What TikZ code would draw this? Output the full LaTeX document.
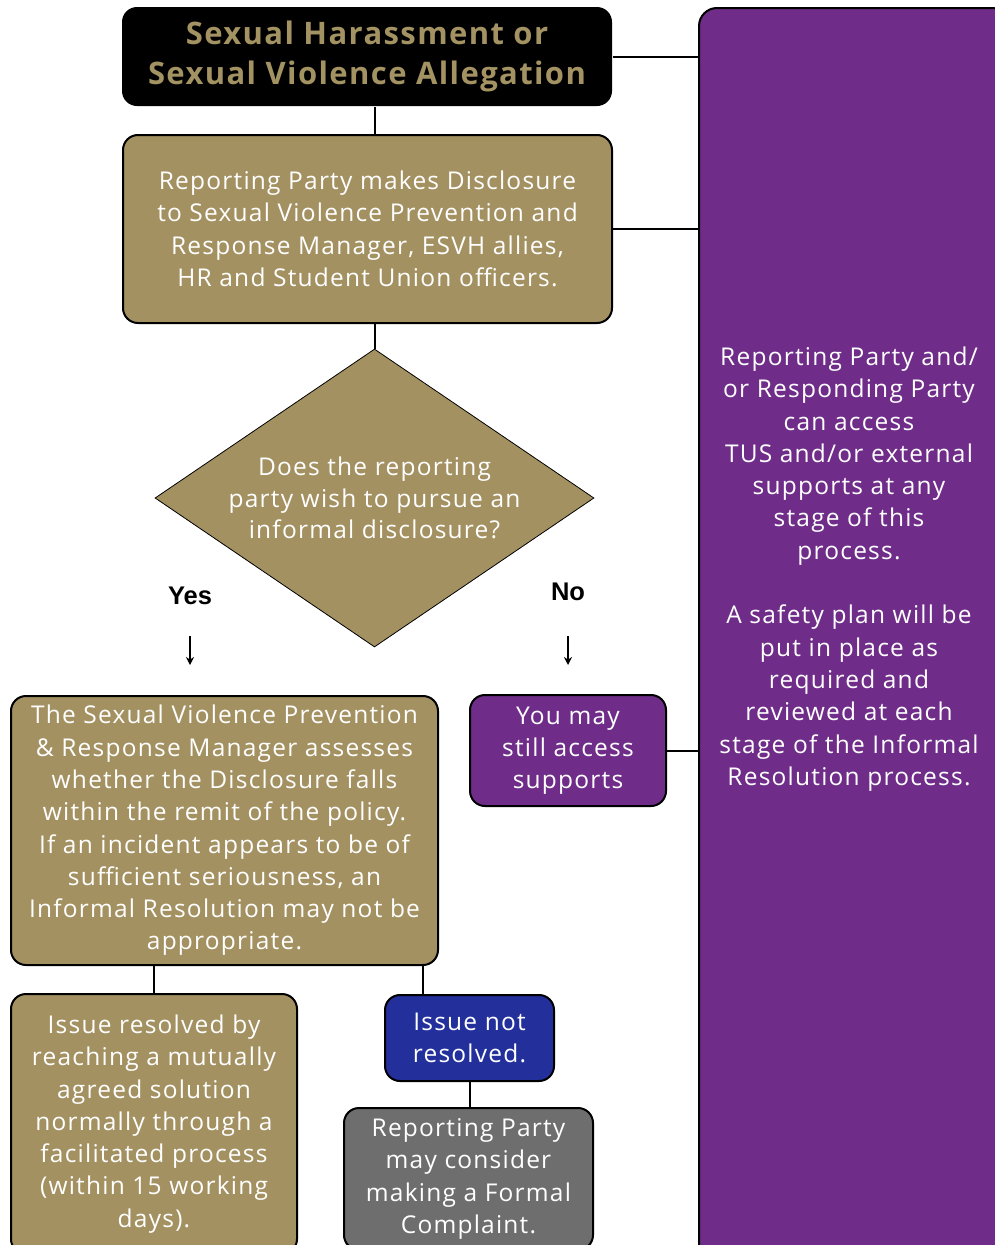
\documentclass[tikz,border=0pt]{standalone}
\usepackage{fontspec}
\setmainfont{Open Sans}[LetterSpace=5]
\newfontfamily\titlefont{Open Sans}[LetterSpace=4.5]
\newfontfamily\labfont{Liberation Sans}
\usetikzlibrary{shapes.geometric,arrows.meta}
\definecolor{gold}{HTML}{A39161}
\definecolor{titlegold}{HTML}{A39262}
\definecolor{vpurple}{HTML}{6F2D89}
\definecolor{vblue}{HTML}{23309B}
\definecolor{vgray}{HTML}{6E6E6E}
\tikzset{
  box/.style={draw=black, line width=2pt, rounded corners=15pt, align=center,
    text=white, inner sep=0pt, font=\fontsize{24.5}{32.3}\selectfont},
  plaintext/.style={align=center, text=white, inner sep=0pt, font=\fontsize{24.5}{32.3}\selectfont},
  conn/.style={draw=black, line width=2pt},
  lab/.style={font=\labfont\bfseries\fontsize{25.5}{30}\selectfont, inner sep=0pt},
  smallarrow/.style={draw=black, line width=1.8pt, -{Stealth[length=8pt,width=8pt]}}
}
\begin{document}
\begin{tikzpicture}[x=1pt,y=-1pt]
\useasboundingbox (0,0) rectangle (995,1245);
\clip (0,0) rectangle (995,1245);

% big purple side panel
\node[box, fill=vpurple, rounded corners=18pt, minimum width=311pt, minimum height=1257pt] (purple) at (854.5,636.5) {};
\node[plaintext] (ptext) at (849,569)
  {Reporting Party and/\\or Responding Party\\can access\\TUS and/or external\\supports at any\\stage of this\\process.\\[32.3pt]A safety plan will be\\put in place as\\required and\\reviewed at each\\stage of the Informal\\Resolution process.};

% title
\node[box, draw=none, fill=black, text=titlegold, font=\titlefont\bfseries\fontsize{31}{40}\selectfont,
  minimum width=490pt, minimum height=99pt] (title) at (367,56.5)
  {Sexual Harassment or\\Sexual Violence Allegation};

% disclosure
\node[box, fill=gold, minimum width=489pt, minimum height=188pt] (box2) at (367.5,229)
  {Reporting Party makes Disclosure\\to Sexual Violence Prevention and\\Response Manager, ESVH allies,\\HR and Student Union officers.};

% decision
\node[diamond, draw=black, line width=0.8pt, fill=gold, inner sep=0pt,
  minimum width=439pt, minimum height=298pt] (dia) at (374.5,498) {};
\node[plaintext, font=\fontsize{24.5}{31.5}\selectfont] (dtext) at (dia.center)
  {Does the reporting\\party wish to pursue an\\informal disclosure?};

% labels and arrows
\node[lab] (yes) at (190,596) {Yes};
\node[lab] (no) at (568,592) {No};
\coordinate (ya) at (190,636);
\coordinate (yb) at (190,665);
\coordinate (na) at (568,636);
\coordinate (nb) at (568,665);
\draw[smallarrow] (ya) -- (yb);
\draw[smallarrow] (na) -- (nb);

% assessment
\node[box, fill=gold, minimum width=427pt, minimum height=269pt] (assess) at (224.5,830.5)
  {The Sexual Violence Prevention\\\& Response Manager assesses\\whether the Disclosure falls\\within the remit of the policy.\\If an incident appears to be of\\sufficient seriousness, an\\Informal Resolution may not be\\appropriate.};

% no-branch
\node[box, fill=vpurple, minimum width=196pt, minimum height=111pt] (you) at (568,750.5)
  {You may\\still access\\supports};

% outcomes
\node[box, fill=gold, minimum width=286pt, minimum height=260pt] (resolved) at (154,1124)
  {Issue resolved by\\reaching a mutually\\agreed solution\\normally through a\\facilitated process\\(within 15 working\\days).};
\node[box, fill=vblue, minimum width=169pt, minimum height=86pt] (notres) at (469.5,1038)
  {Issue not\\resolved.};
\node[box, fill=vgray, minimum width=249pt, minimum height=142pt] (formal) at (468.5,1179)
  {Reporting Party\\may consider\\making a Formal\\Complaint.};

% connectors
\draw[conn] (title.south -| dia.north) -- (box2.north -| dia.north);
\draw[conn] (box2.south -| dia.north) -- (dia.north);
\draw[conn] (title.east) -- (title.east -| purple.west);
\draw[conn] (box2.east) -- (box2.east -| purple.west);
\draw[conn] (you.east) -- (you.east -| purple.west);
\draw[conn] (assess.south -| resolved.north) -- (resolved.north);
\coordinate (c1) at (423,965);
\draw[conn] (c1) -- (c1 |- notres.north);
\draw[conn] (notres.south) -- (notres.south |- formal.north);
\end{tikzpicture}
\end{document}
